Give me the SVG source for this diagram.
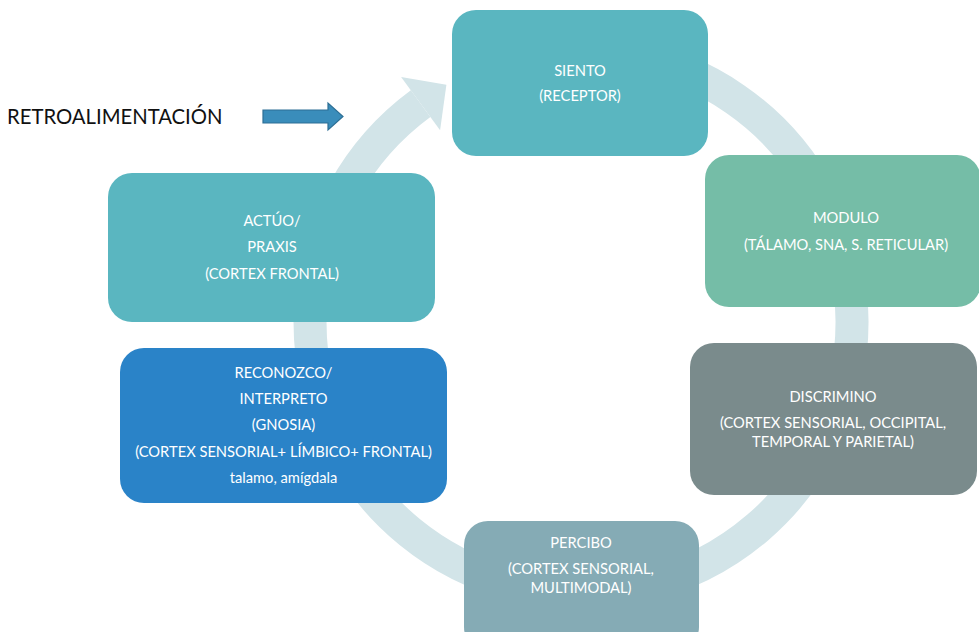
<svg xmlns="http://www.w3.org/2000/svg" width="979" height="632" viewBox="0 0 979 632">
<style>
.t{font-family:Lato,"Open Sans","Liberation Sans",sans-serif;font-size:14.7px;fill:#ffffff;text-anchor:middle}
.lbl{font-family:Lato,"Open Sans","Liberation Sans",sans-serif;font-size:20.3px;fill:#111111}
.ring{fill:none;stroke:#d2e4e8;stroke-width:33}
</style>
<rect width="979" height="632" fill="#ffffff"/>
<g id="connectors">
<path class="ring" d="M628.06,55.12 A271,271 0 1 1 420.6,103.6"/>
<polygon points="401.1,77 446.4,84.7 440.1,130.2" fill="#d2e4e8"/>
</g>
<g id="feedback">
<text class="lbl" x="7" y="124">RETROALIMENTACIÓN</text>
<path d="M263,110 H328 V103 L343,116.5 L328,130 V123 H263 Z" fill="#3a8dbb" stroke="#2d6f95" stroke-width="1.2"/>
</g>
<g id="siento">
<rect x="452" y="10" width="256" height="146" rx="24" fill="#5ab6c0"/>
<text class="t" x="580" y="76">SIENTO</text>
<text class="t" x="580" y="101">(RECEPTOR)</text>
</g>
<g id="modulo">
<rect x="705" y="155" width="276" height="152" rx="24" fill="#75bda7"/>
<text class="t" x="846" y="223">MODULO</text>
<text class="t" x="846" y="250">(TÁLAMO, SNA, S. RETICULAR)</text>
</g>
<g id="discrimino">
<rect x="690" y="343" width="287" height="152" rx="24" fill="#7a8b8c"/>
<text class="t" x="833" y="402">DISCRIMINO</text>
<text class="t" x="833" y="428">(CORTEX SENSORIAL, OCCIPITAL,</text>
<text class="t" x="833" y="447">TEMPORAL Y PARIETAL)</text>
</g>
<g id="percibo">
<rect x="464" y="521" width="235" height="130" rx="24" fill="#85abb5"/>
<text class="t" x="581" y="548">PERCIBO</text>
<text class="t" x="581" y="574">(CORTEX SENSORIAL,</text>
<text class="t" x="581" y="593">MULTIMODAL)</text>
</g>
<g id="reconozco">
<rect x="120" y="348" width="327" height="155" rx="24" fill="#2a83c8"/>
<text class="t" x="283.5" y="378">RECONOZCO/</text>
<text class="t" x="283.5" y="404">INTERPRETO</text>
<text class="t" x="283.5" y="430">(GNOSIA)</text>
<text class="t" x="283.5" y="457">(CORTEX SENSORIAL+ LÍMBICO+ FRONTAL)</text>
<text class="t" x="283.5" y="483">talamo, amígdala</text>
</g>
<g id="actuo">
<rect x="108" y="173" width="327" height="149" rx="24" fill="#5ab6c0"/>
<text class="t" x="272" y="226">ACTÚO/</text>
<text class="t" x="272" y="252">PRAXIS</text>
<text class="t" x="272" y="279">(CORTEX FRONTAL)</text>
</g>
</svg>
